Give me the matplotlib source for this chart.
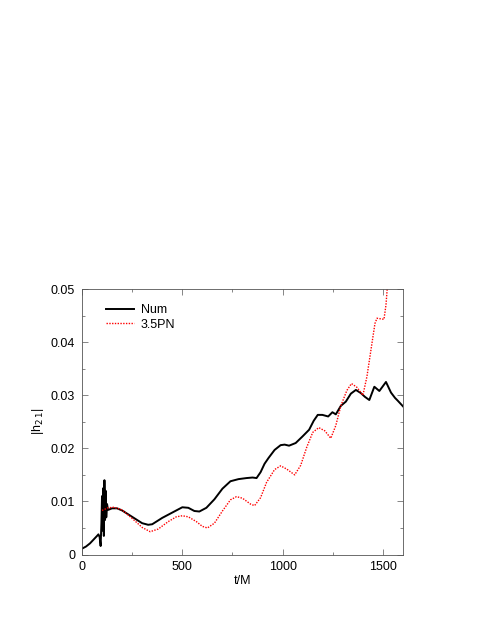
import matplotlib
matplotlib.use('Agg')
import matplotlib.pyplot as plt
from matplotlib.ticker import MultipleLocator

plt.rcParams['font.family'] = ['Liberation Sans', 'DejaVu Sans']

# numerical |h21| vs t/M
num_t = [0, 20, 40, 60, 75, 82, 88, 93, 97, 100, 103, 106, 109, 112, 115, 118,
         121, 125, 130, 150, 175, 200, 250, 300, 330, 350, 400, 450, 500, 530,
         560, 585, 620, 660, 700, 740, 780, 820, 850, 870, 890, 910, 930, 960,
         990, 1010, 1032, 1065, 1098, 1132, 1155, 1175, 1198, 1227, 1248, 1265,
         1290, 1315, 1340, 1365, 1390, 1410, 1432, 1457, 1482, 1515, 1540, 1560,
         1573, 1600]
num_h = [0.0011, 0.0015, 0.0021, 0.0029, 0.0035, 0.0038, 0.0033, 0.0016, 0.006,
         0.011, 0.0045, 0.0125, 0.0035, 0.014, 0.0065, 0.012, 0.007, 0.0095,
         0.0084, 0.0087, 0.0087, 0.0083, 0.0071, 0.0059, 0.0056, 0.0057, 0.0069,
         0.0079, 0.0089, 0.0088, 0.0082, 0.0081, 0.0088, 0.0104, 0.0124, 0.0138,
         0.0142, 0.0144, 0.0145, 0.0144, 0.0155, 0.0171, 0.0182, 0.0197, 0.0206,
         0.0207, 0.0205, 0.021, 0.0222, 0.0235, 0.0252, 0.0263, 0.0263, 0.026,
         0.0268, 0.0264, 0.028, 0.0288, 0.0303, 0.031, 0.0304, 0.0297, 0.0291,
         0.0316, 0.0308, 0.0325, 0.0305, 0.0295, 0.029, 0.0279]

# 3.5PN |h21|
pn_t = [100, 130, 160, 200, 250, 300, 340, 380, 430, 470, 500, 530, 570, 600,
        625, 660, 700, 740, 770, 800, 840, 860, 890, 920, 960, 990, 1020, 1060,
        1090, 1120, 1150, 1180, 1210, 1240, 1265, 1290, 1320, 1343, 1370, 1400,
        1420, 1440, 1460, 1470, 1505, 1515, 1525]
pn_h = [0.0083, 0.0088, 0.0089, 0.0084, 0.0068, 0.0051, 0.0043, 0.0048, 0.0062,
        0.0071, 0.0073, 0.0071, 0.0062, 0.0053, 0.005, 0.0059, 0.0082, 0.0103,
        0.0109, 0.0106, 0.0095, 0.0092, 0.0107, 0.0136, 0.016, 0.0167, 0.0161,
        0.015, 0.0168, 0.0202, 0.023, 0.0239, 0.0233, 0.0219, 0.0243, 0.028,
        0.0309, 0.0322, 0.0315, 0.030, 0.0335, 0.0385, 0.0435, 0.0445, 0.0443,
        0.047, 0.052]

fig = plt.figure(figsize=(4.85, 6.27), dpi=100)
ax = fig.add_axes([0.169, 0.1156, 0.662, 0.4234])

ax.plot(num_t, num_h, color='black', lw=1.4, label='Num')
ax.plot(pn_t, pn_h, color='red', lw=1.0, ls=(0, (1, 1)), label='3.5PN')

ax.set_xlim(0, 1600)
ax.set_ylim(0, 0.05)
ax.xaxis.set_major_locator(MultipleLocator(500))
ax.xaxis.set_minor_locator(MultipleLocator(250))
ax.yaxis.set_major_locator(MultipleLocator(0.01))
ax.yaxis.set_minor_locator(MultipleLocator(0.005))
ax.yaxis.set_major_formatter(plt.FuncFormatter(lambda v, p: '0' if v == 0 else f'{v:.2f}'))
ax.tick_params(which='both', direction='in', top=True, right=True,
               labelsize=9, width=0.5, color='#555555')
ax.tick_params(which='major', length=4, pad=5)
ax.tick_params(which='minor', length=2.5)
for s in ax.spines.values():
    s.set_linewidth(0.6)
    s.set_color('#555555')

ax.set_xlabel('t/M', fontsize=9, labelpad=1)
ax.set_ylabel('|h$_{2\\,1}$|', fontsize=9, labelpad=3)

ax.legend(loc='upper left', bbox_to_anchor=(0.06, 0.962), frameon=False,
          fontsize=9, handlelength=2.2, handletextpad=0.55, labelspacing=0.2,
          borderaxespad=0)

fig.savefig('out.png', dpi=100)
